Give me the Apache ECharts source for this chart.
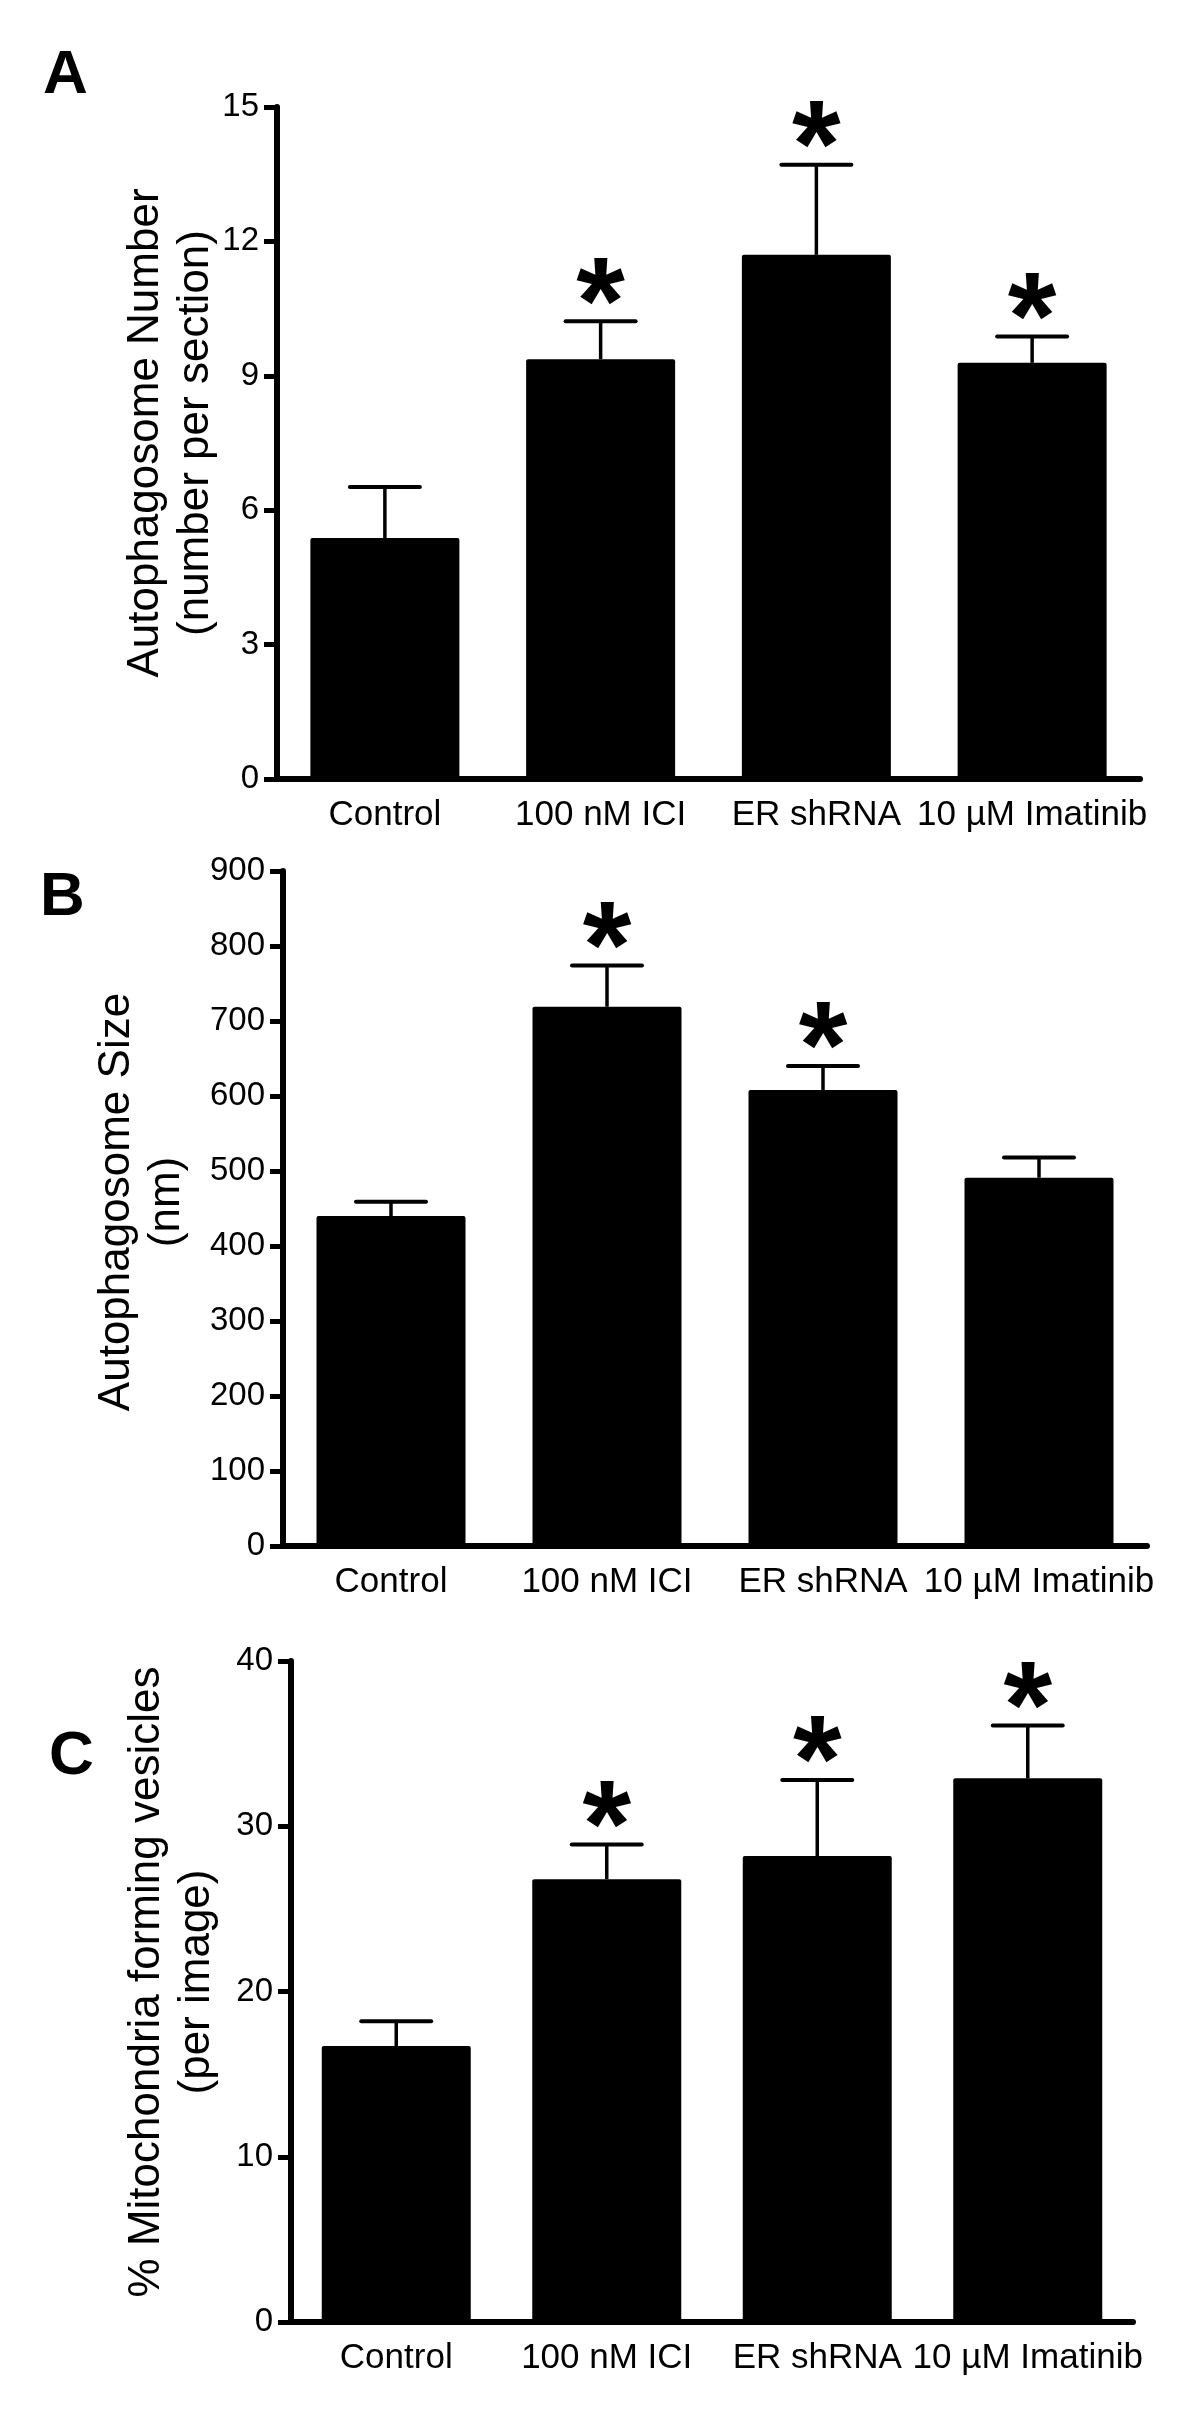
<!DOCTYPE html>
<html>
<head>
<meta charset="utf-8">
<script src="https://cdn.jsdelivr.net/npm/echarts@6/dist/echarts.min.js"></script>
<style>
  html, body { margin: 0; padding: 0; background: #fff; }
  #chart { width: 1200px; height: 2410px; }
</style>
</head>
<body>
<div id="chart"></div>
<script>
const groups = ['Control', '100 nM ICI', 'ER shRNA', '10 µM Imatinib'];

// A - autophagosome number (number per section)
const meanA = [5.38, 9.37, 11.70, 9.29];
const semA = [1.14, 0.85, 2.01, 0.59];
const starA = [false, true, true, true];

// B - autophagosome size (nm)
const meanB = [440, 719, 608, 491];
const semB = [19, 55, 32, 27];
const starB = [false, true, true, false];

// C - % mitochondria forming vesicles (per image)
const meanC = [16.7, 26.8, 28.2, 32.9];
const semC = [1.5, 2.1, 4.6, 3.2];
const starC = [false, true, true, true];

const FONT = '"Liberation Sans", Arial, sans-serif';

var myChart = echarts.init(document.getElementById('chart'));

function errorBars(stars) {
  return function (params, api) {
    const i = api.value(0);
    const base = api.coord([i, api.value(1)]);
    const top = api.coord([i, api.value(2)]);
    const kids = [
      { type: 'line', shape: { x1: base[0], y1: base[1], x2: top[0], y2: top[1] },
        style: { stroke: '#000', lineWidth: 3.5 } },
      { type: 'line', shape: { x1: top[0] - 35, y1: top[1], x2: top[0] + 35, y2: top[1] },
        style: { stroke: '#000', lineWidth: 4, lineCap: 'round' } }
    ];
    if (stars[i]) {
      kids.push({
        type: 'text', x: top[0], y: top[1] - 12,
        style: { text: '*', font: 'bold 125px ' + FONT, fill: '#000',
          align: 'center', verticalAlign: 'middle', textAlign: 'center', textVerticalAlign: 'middle' }
      });
    }
    return { type: 'group', children: kids };
  };
}

function xAxisOf(gi) {
  return {
    type: 'category', gridIndex: gi, data: groups,
    axisLine: { lineStyle: { color: '#000', width: 6 } },
    axisTick: { alignWithLabel: true, length: 14, lineStyle: { color: '#000', width: 4.5 } },
    axisLabel: { interval: 0, color: '#000', fontSize: 35, fontFamily: FONT, margin: 19 },
    splitLine: { show: false }
  };
}

function yAxisOf(gi, max, step) {
  return {
    type: 'value', gridIndex: gi, min: 0, max: max, interval: step,
    axisLine: { show: true, lineStyle: { color: '#000', width: 6 } },
    axisTick: { show: true, length: 13, lineStyle: { color: '#000', width: 5 } },
    axisLabel: { color: '#000', fontSize: 33, fontFamily: FONT, margin: 18 },
    splitLine: { show: false }
  };
}

function barSeries(gi, data) {
  return {
    type: 'bar', xAxisIndex: gi, yAxisIndex: gi, data: data, barWidth: 149,
    itemStyle: { color: '#000', borderRadius: 2 }, z: 2
  };
}

function errSeries(gi, mean, sem, stars) {
  return {
    type: 'custom', xAxisIndex: gi, yAxisIndex: gi, clip: false, z: 3,
    renderItem: errorBars(stars),
    encode: { x: 0, y: [1, 2] },
    data: mean.map((m, i) => [i, m, m + sem[i]])
  };
}

function titleText(x, y, text) {
  return {
    type: 'text', x: x, y: y, rotation: Math.PI / 2,
    style: { text: text, font: '44px ' + FONT, fill: '#000', lineHeight: 50,
      align: 'center', verticalAlign: 'middle', textAlign: 'center', textVerticalAlign: 'middle' }
  };
}

function letter(x, y, text) {
  return {
    type: 'text', x: x, y: y,
    style: { text: text, font: 'bold 62px ' + FONT, fill: '#000',
      align: 'left', verticalAlign: 'middle', textAlign: 'left', textVerticalAlign: 'middle' }
  };
}

myChart.setOption({
  backgroundColor: '#fff',
  animation: false,
  grid: [
    { left: 277, top: 107, width: 863, height: 672 },
    { left: 283, top: 871, width: 864, height: 675 },
    { left: 291, top: 1661, width: 842, height: 661 }
  ],
  xAxis: [xAxisOf(0), xAxisOf(1), xAxisOf(2)],
  yAxis: [yAxisOf(0, 15, 3), yAxisOf(1, 900, 100), yAxisOf(2, 40, 10)],
  series: [
    barSeries(0, meanA), errSeries(0, meanA, semA, starA),
    barSeries(1, meanB), errSeries(1, meanB, semB, starB),
    barSeries(2, meanC), errSeries(2, meanC, semC, starC)
  ],
  graphic: [
    letter(43, 76, 'A'),
    letter(40, 898, 'B'),
    letter(49, 1757, 'C'),
    titleText(171, 433, 'Autophagosome Number\n(number per section)'),
    titleText(142, 1202, 'Autophagosome Size\n(nm)'),
    titleText(172, 1982, '% Mitochondria forming vesicles\n(per image)')
  ]
});
</script>
</body>
</html>
